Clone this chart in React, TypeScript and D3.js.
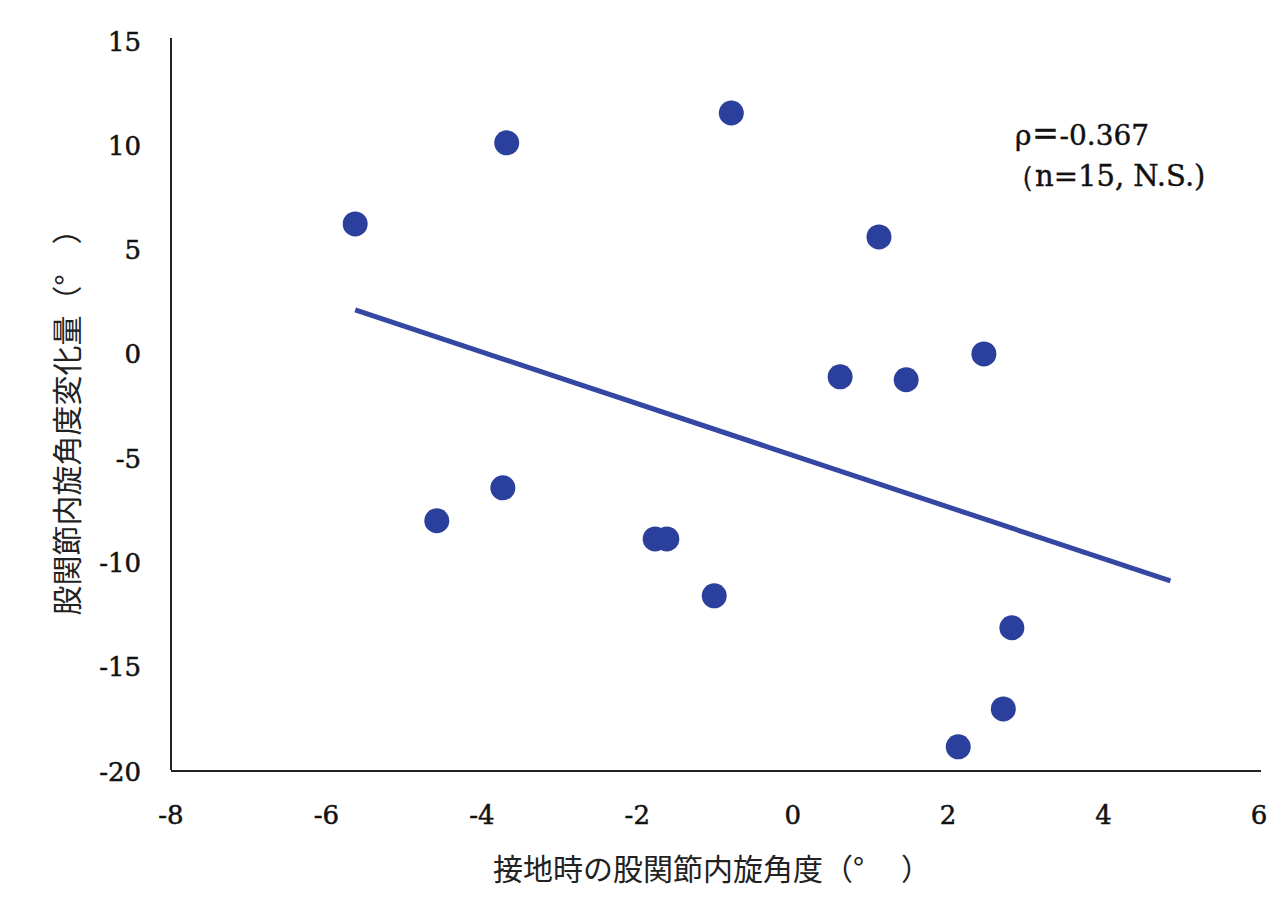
import React from "react";
import * as d3 from "d3";

// Hip internal rotation at foot contact (x) vs. change in hip internal rotation (y)
const contactAngle = [-5.63, -3.68, -0.79, 1.11, 0.61, 1.46, 2.46, -3.73, -4.58, -1.77, -1.62, -1.01, 2.82, 2.71, 2.13];
const rotationChange = [6.18, 10.07, 11.5, 5.56, -1.15, -1.29, -0.05, -6.47, -8.05, -8.92, -8.92, -11.65, -13.18, -17.07, -18.89];

// Fitted trend line end points
const trendX = [-5.63, 4.86];
const trendY = [2.06, -10.93];

const xTicks = [-8, -6, -4, -2, 0, 2, 4, 6];
const yTicks = [15, 10, 5, 0, -5, -10, -15, -20];

const W = 1281;
const H = 914;
const serif = "'DejaVu Serif', 'Liberation Serif', serif";
const sans = "'Noto Sans CJK JP', sans-serif";

const fmt = (v: number) => (v < 0 ? "-" + Math.abs(v) : String(v));

export default function App() {
  const x = d3.scaleLinear().domain([-8, 6]).range([171, 1259]);
  const y = d3.scaleLinear().domain([-20, 15]).range([770, 40]);
  const line = d3
    .line<number>()
    .x((_, i) => x(trendX[i]))
    .y((d) => y(d));

  return (
    <svg
      width={W}
      height={H}
      style={{ position: "absolute", left: 0, top: 0, background: "#fff" }}
    >
      {/* axes */}
      <line x1={x(-8)} x2={x(-8)} y1={38} y2={y(-20)} stroke="#222" strokeWidth={2} />
      <line x1={x(-8)} x2={x(6) + 2} y1={y(-20) + 1} y2={y(-20) + 1} stroke="#222" strokeWidth={2} />

      {yTicks.map((t) => (
        <text
          key={"y" + t}
          x={141}
          y={y(t) + 10.5}
          textAnchor="end"
          fontFamily={serif}
          fontSize={26}
          fill="#111"
          stroke="#111"
          strokeWidth={0.5}
        >
          {fmt(t)}
        </text>
      ))}
      {xTicks.map((t) => (
        <text
          key={"x" + t}
          x={x(t)}
          y={824}
          textAnchor="middle"
          fontFamily={serif}
          fontSize={26}
          fill="#111"
          stroke="#111"
          strokeWidth={0.5}
        >
          {fmt(t)}
        </text>
      ))}

      {/* trend line */}
      <path d={line(trendY) || ""} stroke="#3447a3" strokeWidth={5} fill="none" />

      {/* points */}
      {contactAngle.map((v, i) => (
        <circle key={i} cx={x(v)} cy={y(rotationChange[i])} r={12.5} fill="#2b3f9c" />
      ))}

      {/* annotation */}
      <text x={1015} y={145} fontFamily={serif} fontSize={28} fill="#111" stroke="#111" strokeWidth={0.4}>
        ρ<tspan fontFamily={sans} fontWeight="bold">＝</tspan>-0.367
      </text>
      <text x={1006} y={186} fontFamily={serif} fontSize={29} fill="#111" stroke="#111" strokeWidth={0.4}>
        （n=15, N.S.)
      </text>

      {/* axis titles */}
      <text
        x={712}
        y={880}
        textAnchor="middle"
        fontFamily={sans}
        fontSize={30}
        fill="#222"
      >
        接地時の股関節内旋角度（°　 ）
      </text>
      <text
        transform={`translate(78, 415) rotate(-90)`}
        textAnchor="middle"
        fontFamily={sans}
        fontSize={30}
        fill="#222"
      >
        股関節内旋角度変化量（°　）
      </text>
    </svg>
  );
}
